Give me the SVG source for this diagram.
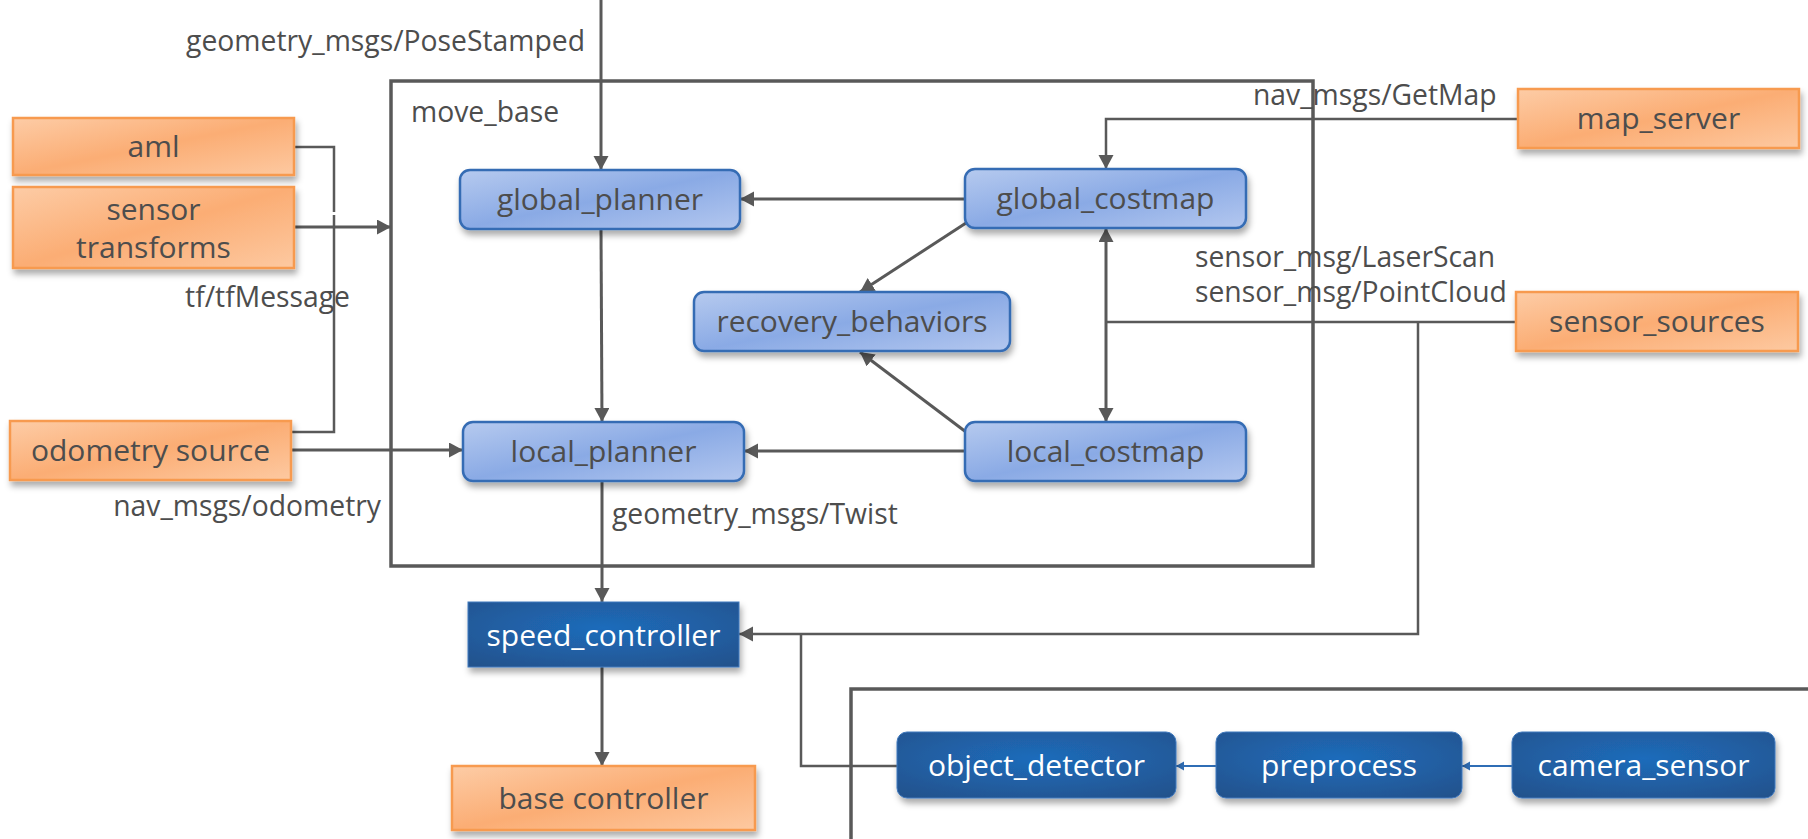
<svg xmlns="http://www.w3.org/2000/svg" width="1808" height="839" viewBox="0 0 1808 839">
  <defs>
    <linearGradient id="gOrange" x1="0" y1="0" x2="1" y2="1">
      <stop offset="0" stop-color="#fdcca6"/>
      <stop offset="0.5" stop-color="#fbad74"/>
      <stop offset="1" stop-color="#fdc9a1"/>
    </linearGradient>
    <linearGradient id="gBlue" x1="0" y1="0" x2="1" y2="1">
      <stop offset="0" stop-color="#b6caef"/>
      <stop offset="0.5" stop-color="#8aaae5"/>
      <stop offset="1" stop-color="#b3c7ef"/>
    </linearGradient>
    <radialGradient id="gDark" cx="0.5" cy="0.4" r="0.75">
      <stop offset="0" stop-color="#1e6cbb"/>
      <stop offset="1" stop-color="#23528c"/>
    </radialGradient>
    <filter id="shadow" x="-10%" y="-20%" width="120%" height="160%">
      <feDropShadow dx="2" dy="5" stdDeviation="3" flood-color="#000" flood-opacity="0.33"/>
    </filter>
    <marker id="arrow" markerUnits="userSpaceOnUse" markerWidth="16" markerHeight="16" refX="14" refY="7.5" orient="auto">
      <path d="M0,0 L14,7.5 L0,15 z" fill="#595959"/>
    </marker>
    <marker id="arrowBlue" markerUnits="userSpaceOnUse" markerWidth="10" markerHeight="10" refX="8" refY="4.5" orient="auto">
      <path d="M0,0 L8,4.5 L0,9 z" fill="#2f6db5"/>
    </marker>
    <style>
      .orange { fill: url(#gOrange); stroke: #f79a4f; stroke-width: 2.5; filter: url(#shadow); }
      .blue { fill: url(#gBlue); stroke: #356cb4; stroke-width: 2.5; filter: url(#shadow); }
      .dark { fill: url(#gDark); stroke: #3f78bd; stroke-width: 1; filter: url(#shadow); }
      .node-text { font-family: "Open Sans", "Noto Sans", sans-serif; font-size: 30px; fill: #4d4d4d; text-anchor: middle; }
      .node-text-light { font-family: "Open Sans", "Noto Sans", sans-serif; font-size: 30px; fill: #ffffff; text-anchor: middle; }
      .label { font-family: "Open Sans", "Noto Sans", sans-serif; font-size: 28.3px; fill: #4d4d4d; }
      .frame { fill: none; stroke: #595959; stroke-width: 3.5; }
      .edge { fill: none; stroke: #595959; stroke-width: 3; }
      .edge-thin { fill: none; stroke: #595959; stroke-width: 2.5; }
      .edge-blue { fill: none; stroke: #2f6db5; stroke-width: 2; }
    </style>
  </defs>

  <!-- container frames -->
  <rect id="move_base" class="frame" x="391" y="81" width="922" height="485"/>
  <rect id="perception_frame" class="frame" x="851" y="689" width="1000" height="200" stroke-width="4"/>

  <!-- connectors -->
  <g id="connectors">
    <line class="edge" x1="601" y1="0" x2="601" y2="170" marker-end="url(#arrow)"/>
    <polyline class="edge-thin" points="294,147 334,147 334,212"/>
    <polyline class="edge-thin" points="292,432 334,432 334,215"/>
    <line class="edge" x1="294" y1="227" x2="391" y2="227" marker-end="url(#arrow)"/>
    <line class="edge" x1="291" y1="450" x2="463" y2="450" marker-end="url(#arrow)"/>
    <line class="edge" x1="965" y1="199" x2="740" y2="199" marker-end="url(#arrow)"/>
    <line class="edge" x1="966" y1="223" x2="860" y2="292" marker-end="url(#arrow)"/>
    <line class="edge" x1="966" y1="432" x2="860" y2="352" marker-end="url(#arrow)"/>
    <line class="edge" x1="965" y1="451" x2="744" y2="451" marker-end="url(#arrow)"/>
    <line class="edge" x1="601" y1="229" x2="602" y2="422" marker-end="url(#arrow)"/>
    <line class="edge" x1="602" y1="481" x2="602" y2="602" marker-end="url(#arrow)"/>
    <line class="edge" x1="602" y1="667" x2="602" y2="766" marker-end="url(#arrow)"/>
    <polyline class="edge-thin" points="1518,119 1106,119 1106,169" marker-end="url(#arrow)"/>
    <line class="edge-thin" x1="1516" y1="322" x2="1106" y2="322"/>
    <line class="edge" x1="1106" y1="322" x2="1106" y2="228" marker-end="url(#arrow)"/>
    <line class="edge" x1="1106" y1="322" x2="1106" y2="422" marker-end="url(#arrow)"/>
    <polyline class="edge-thin" points="1418,322 1418,634 739,634" marker-end="url(#arrow)"/>
    <polyline class="edge-thin" points="897,766 801,766 801,634"/>
    <line class="edge-blue" x1="1216" y1="766" x2="1176" y2="766" marker-end="url(#arrowBlue)"/>
    <line class="edge-blue" x1="1512" y1="766" x2="1462" y2="766" marker-end="url(#arrowBlue)"/>
  </g>

  <!-- connector labels -->
  <g id="labels">
    <text class="label" x="585" y="51" text-anchor="end">geometry_msgs/PoseStamped</text>
    <text class="label" x="411" y="122">move_base</text>
    <text class="label" x="350" y="307" text-anchor="end">tf/tfMessage</text>
    <text class="label" x="381" y="516" text-anchor="end">nav_msgs/odometry</text>
    <text class="label" x="612" y="524">geometry_msgs/Twist</text>
    <text class="label" x="1253" y="105">nav_msgs/GetMap</text>
    <text class="label" x="1195" y="267">sensor_msg/LaserScan</text>
    <text class="label" x="1195" y="302">sensor_msg/PointCloud</text>
  </g>

  <!-- external nodes -->
  <g id="aml">
    <rect class="orange" x="13" y="118" width="281" height="57"/>
    <text class="node-text" x="153.5" y="157">aml</text>
  </g>
  <g id="sensor_transforms">
    <rect class="orange" x="13" y="187" width="281" height="81"/>
    <text class="node-text" x="153.5" y="220">sensor</text>
    <text class="node-text" x="153.5" y="258">transforms</text>
  </g>
  <g id="odometry_source">
    <rect class="orange" x="10" y="421" width="281" height="59"/>
    <text class="node-text" x="150.5" y="461">odometry source</text>
  </g>
  <g id="map_server">
    <rect class="orange" x="1518" y="89" width="281" height="59"/>
    <text class="node-text" x="1658.5" y="129">map_server</text>
  </g>
  <g id="sensor_sources">
    <rect class="orange" x="1516" y="292" width="282" height="59"/>
    <text class="node-text" x="1657" y="332">sensor_sources</text>
  </g>
  <g id="base_controller">
    <rect class="orange" x="452" y="766" width="303" height="64"/>
    <text class="node-text" x="603.5" y="809">base controller</text>
  </g>

  <!-- move_base internals -->
  <g id="global_planner">
    <rect class="blue" x="460" y="170" width="280" height="59" rx="10"/>
    <text class="node-text" x="600" y="210">global_planner</text>
  </g>
  <g id="global_costmap">
    <rect class="blue" x="965" y="169" width="281" height="59" rx="10"/>
    <text class="node-text" x="1105.5" y="209">global_costmap</text>
  </g>
  <g id="recovery_behaviors">
    <rect class="blue" x="694" y="292" width="316" height="59" rx="10"/>
    <text class="node-text" x="852" y="332">recovery_behaviors</text>
  </g>
  <g id="local_planner">
    <rect class="blue" x="463" y="422" width="281" height="59" rx="10"/>
    <text class="node-text" x="603.5" y="462">local_planner</text>
  </g>
  <g id="local_costmap">
    <rect class="blue" x="965" y="422" width="281" height="59" rx="10"/>
    <text class="node-text" x="1105.5" y="462">local_costmap</text>
  </g>

  <!-- control and perception -->
  <g id="speed_controller">
    <rect class="dark" x="468" y="602" width="271" height="65"/>
    <text class="node-text-light" x="603.5" y="646">speed_controller</text>
  </g>
  <g id="object_detector">
    <rect class="dark" x="897" y="732" width="279" height="66" rx="10"/>
    <text class="node-text-light" x="1036.5" y="776">object_detector</text>
  </g>
  <g id="preprocess">
    <rect class="dark" x="1216" y="732" width="246" height="66" rx="10"/>
    <text class="node-text-light" x="1339" y="776">preprocess</text>
  </g>
  <g id="camera_sensor">
    <rect class="dark" x="1512" y="732" width="263" height="66" rx="10"/>
    <text class="node-text-light" x="1643.5" y="776">camera_sensor</text>
  </g>
</svg>
